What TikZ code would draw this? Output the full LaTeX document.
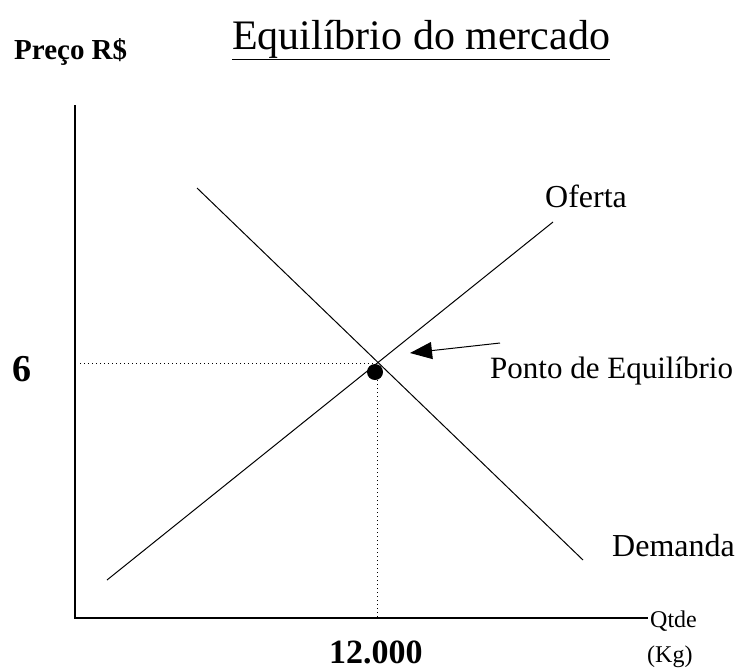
\documentclass[tikz,border=0pt]{standalone}
\usepackage{fontspec}
\setmainfont{Liberation Serif}
\usetikzlibrary{arrows.meta}
\tikzset{
  curve/.style={line width=1pt},
  guide/.style={line width=1pt, dash pattern=on 1pt off 3pt},
  lbl/.style={inner sep=0pt, anchor=base west}
}
\begin{document}
\begin{tikzpicture}[x=1pt,y=-1pt]
    \useasboundingbox (0,0) rectangle (741,670);
    % titulo e eixos
    \node[lbl] (titulo) at (232,49) {\fontsize{42}{44}\selectfont\underline{Equilíbrio do mercado}};
    \node[lbl] (preco) at (14,59) {\fontsize{29}{30}\selectfont\bfseries Preço R\$};
    \coordinate (topo) at (75,105);
    \coordinate (origem) at (75,618);
    \coordinate (fim) at (648,618);
    \draw[line width=1.2pt] (topo) -- (origem) -- (fim);
    \node[lbl] (qtde) at (650,627) {\fontsize{24}{24}\selectfont Qtde};
    \node[lbl] (kg) at (647,662) {\fontsize{24}{24}\selectfont (Kg)};
    % curvas
    \coordinate (of1) at (107,580);
    \coordinate (of2) at (553,222);
    \coordinate (de1) at (197,188);
    \coordinate (de2) at (583,560);
    \draw[curve] (of1) -- (of2);
    \draw[curve] (de1) -- (de2);
    \node[lbl] (oferta) at (545,207) {\fontsize{32}{32}\selectfont Oferta};
    \node[lbl] (demanda) at (612,556) {\fontsize{32}{32}\selectfont Demanda};
    % equilibrio
    \node[circle, fill=black, inner sep=0pt, minimum size=16pt] (ponto) at (375,372) {};
    \coordinate (p6) at (80,363);
    \coordinate (ph) at (375,363);
    \coordinate (pv) at (377,372);
    \coordinate (pq) at (377,618);
    \draw[guide] (p6) -- (ph);
    \draw[guide] (pv) -- (pq);
    \node[lbl] (seis) at (12,381) {\fontsize{38}{38}\selectfont\bfseries 6};
    \node[lbl] (doze) at (329,663) {\fontsize{34}{34}\selectfont\bfseries 12.000};
    \node[lbl] (rotulo) at (490,378) {\fontsize{31}{31}\selectfont Ponto de Equilíbrio};
    \coordinate (seta) at (500,343);
    \draw[curve, -{Triangle[length=22pt, width=17pt]}] (seta) -- (410,353);
\end{tikzpicture}
\end{document}
